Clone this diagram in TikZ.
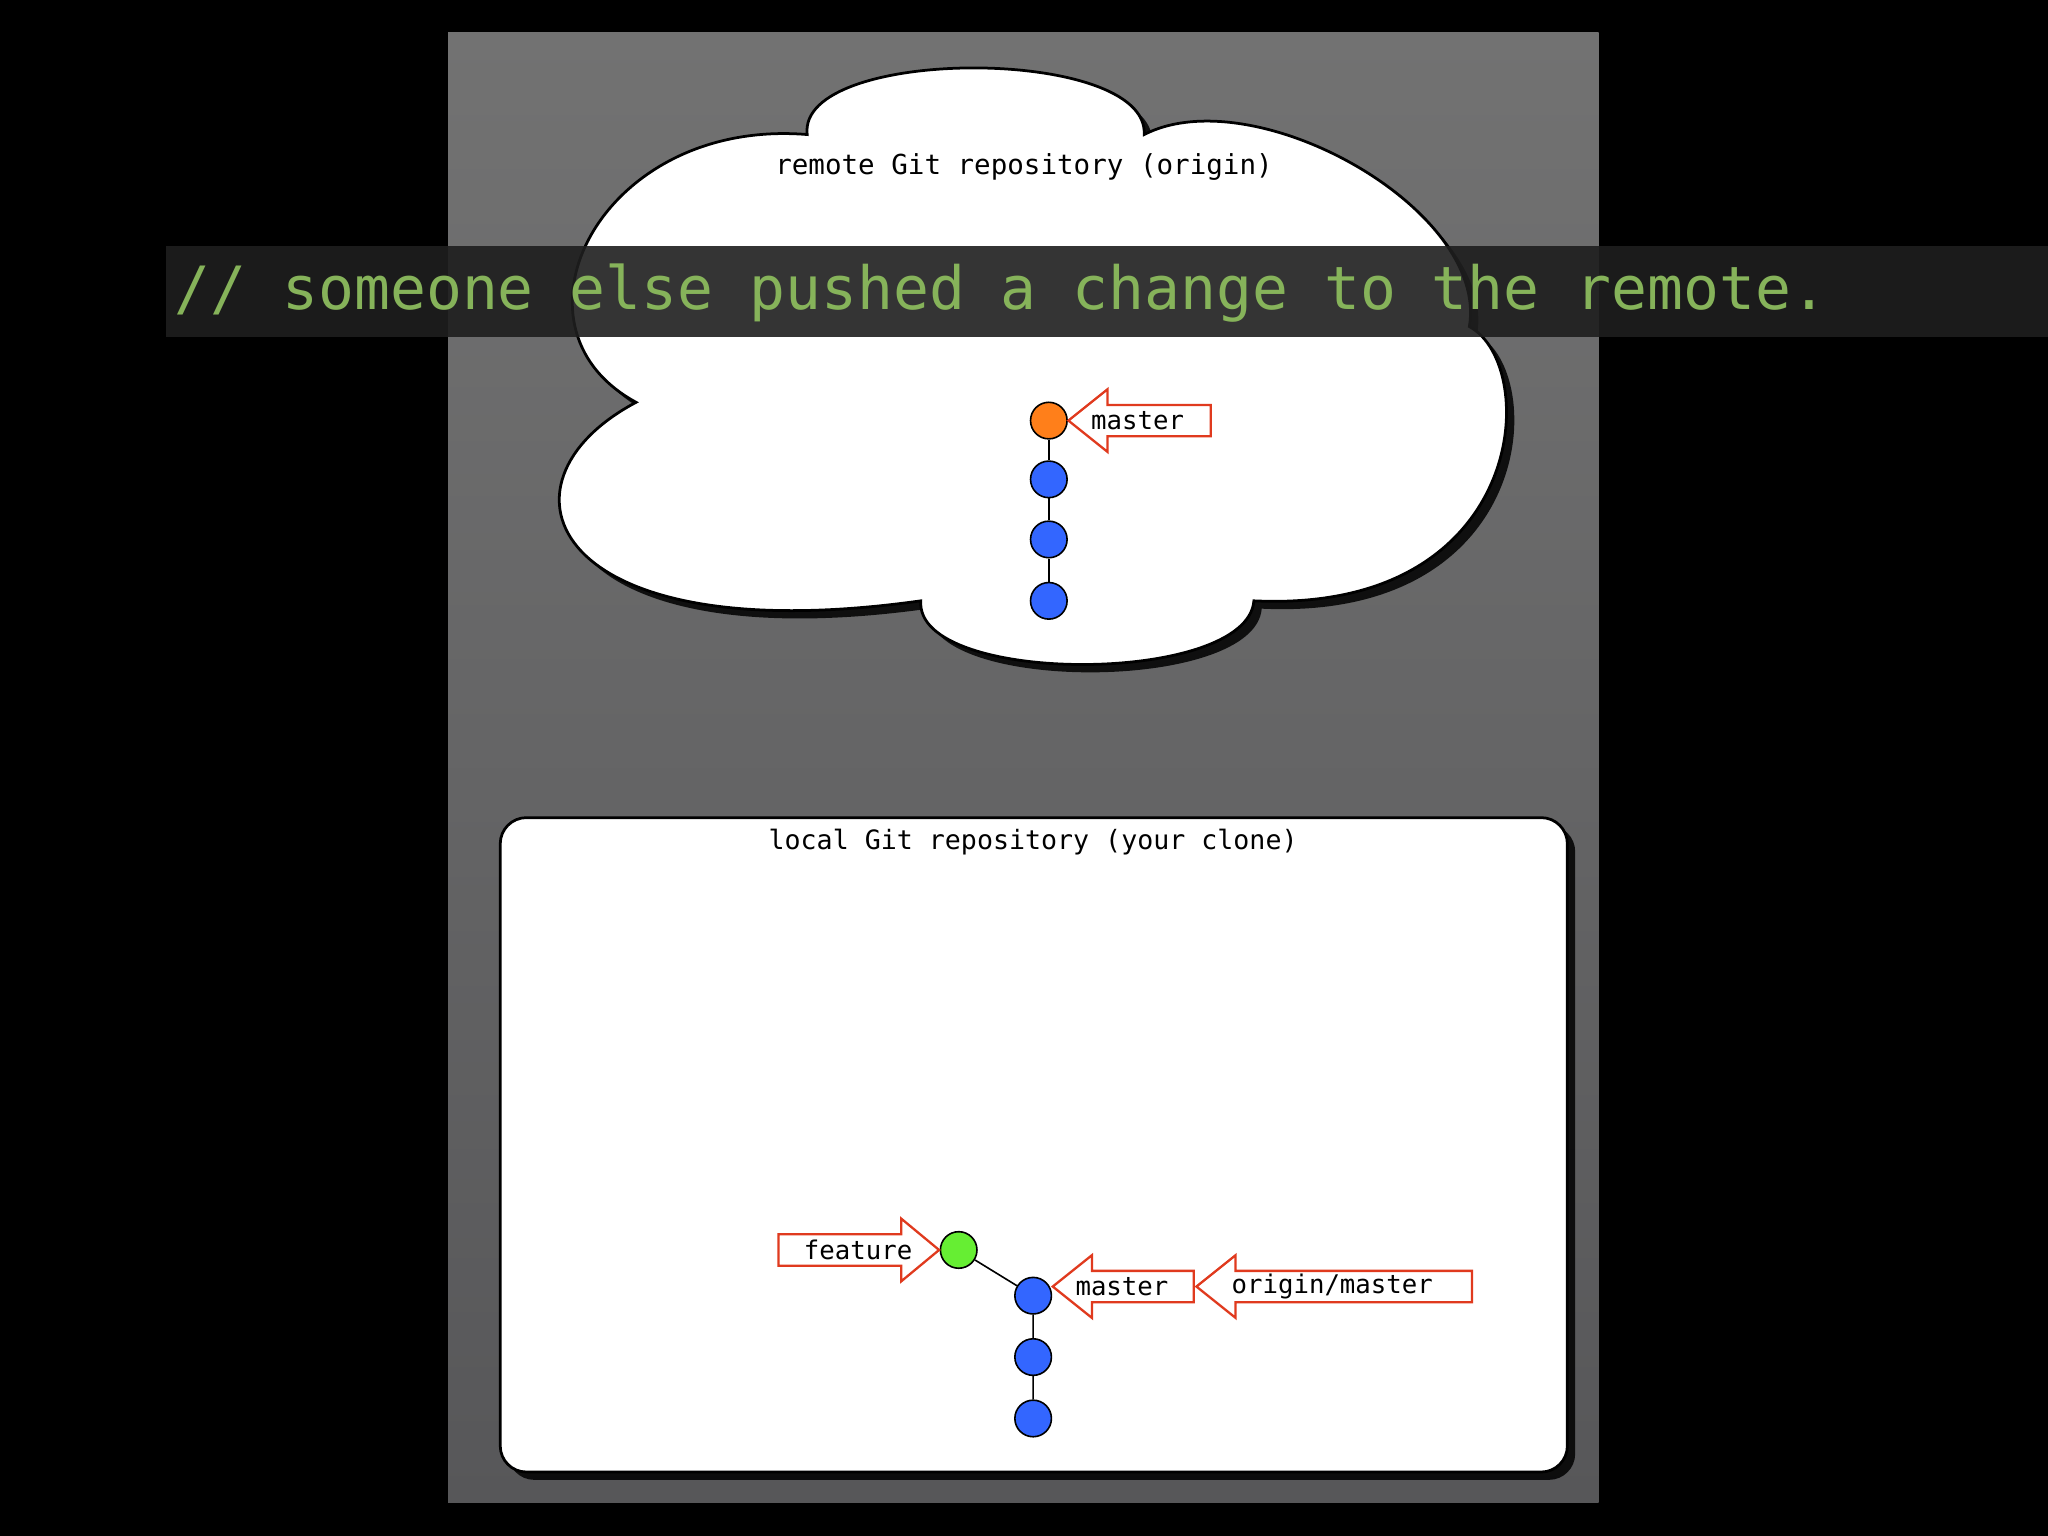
\documentclass[tikz,border=0pt]{standalone}
\usepackage{fontspec}
\newfontfamily\monof{DejaVu Sans Mono}
\usetikzlibrary{shadows}
\definecolor{cblue}{HTML}{3366FF}
\definecolor{corange}{HTML}{FF7F1A}
\definecolor{cgreen}{HTML}{66EE33}
\definecolor{banner}{HTML}{1E1E1E}
\definecolor{bantext}{HTML}{86B35A}
\definecolor{arr}{HTML}{E03A1E}
\definecolor{pan1}{HTML}{727272}
\definecolor{pan2}{HTML}{575759}
\tikzset{
  commit/.style={circle,draw=black,line width=0.35pt,minimum size=2.8mm,inner sep=0pt},
  lbl/.style={font=\monof\fontsize{5.6}{6}\selectfont,inner sep=0pt},
  arrow/.style={draw=arr,line width=0.5pt,fill=white},
  edge/.style={draw=black,line width=0.35pt},
  shad/.style={drop shadow={shadow xshift=0.6mm,shadow yshift=-0.6mm,opacity=0.85,fill=black}}
}
\begin{document}
\begin{tikzpicture}[x=0.1mm,y=-0.1mm]
\useasboundingbox (0,0) rectangle (1568,1176);
\fill[black] (0,0) rectangle (1568,1176);
\shade[top color=pan1,middle color=pan2,bottom color=pan2] (343,25) rectangle (1224,1150);
% cloud
\path[fill=white,draw=black,line width=0.6pt,shad]
 (487,308) .. controls (370,370) and (420,500) .. (705,460)
 .. controls (700,525) and (955,525) .. (960,460)
 .. controls (1170,470) and (1180,280) .. (1125,250)
 .. controls (1140,160) and (960,60) .. (876,103)
 .. controls (880,35) and (610,35) .. (618,103)
 .. controls (460,90) and (380,250) .. (487,308) -- cycle;
\node[lbl,font=\monof\fontsize{6}{7}\selectfont] (rt) at (784,128) {remote Git repository (origin)};
% local box
\path[fill=white,draw=black,line width=0.6pt,rounded corners=2mm,shad]
 (383,626) rectangle (1200,1127);
\node[lbl,font=\monof\fontsize{5.8}{7}\selectfont] (lt) at (791,645) {local Git repository (your clone)};
% banner
\fill[banner,opacity=0.9] (127,188) rectangle (1568,258);
\node[anchor=west,inner sep=0pt,text=bantext,font=\monof\fontsize{13}{15}\selectfont] (ban) at (133,224) {// someone else pushed a change to the remote.};
% remote commits
\node[commit,fill=corange] (r1) at (803,322) {};
\node[commit,fill=cblue] (r2) at (803,367) {};
\node[commit,fill=cblue] (r3) at (803,413) {};
\node[commit,fill=cblue] (r4) at (803,460) {};
\draw[edge] (r1)--(r2) (r2)--(r3) (r3)--(r4);
\draw[arrow] (818,322)--(848,298)--(848,310)--(927,310)--(927,334)--(848,334)--(848,346)--cycle;
\node[lbl] (rm) at (871,322) {master};
% local commits
\node[commit,fill=cgreen] (g) at (734,957) {};
\node[commit,fill=cblue] (l1) at (791,992) {};
\node[commit,fill=cblue] (l2) at (791,1039) {};
\node[commit,fill=cblue] (l3) at (791,1086) {};
\draw[edge] (g)--(l1) (l1)--(l2) (l2)--(l3);
\draw[arrow] (719,957)--(690,933)--(690,945)--(596,945)--(596,969)--(690,969)--(690,981)--cycle;
\node[lbl] (fl) at (657,957) {feature};
\draw[arrow] (806,985)--(836,961)--(836,973)--(914,973)--(914,997)--(836,997)--(836,1009)--cycle;
\node[lbl] (lm) at (859,985) {master};
\draw[arrow] (916,985)--(946,961)--(946,973)--(1127,973)--(1127,997)--(946,997)--(946,1009)--cycle;
\node[lbl] (om) at (1020,985) {origin/master};
\end{tikzpicture}
\end{document}
